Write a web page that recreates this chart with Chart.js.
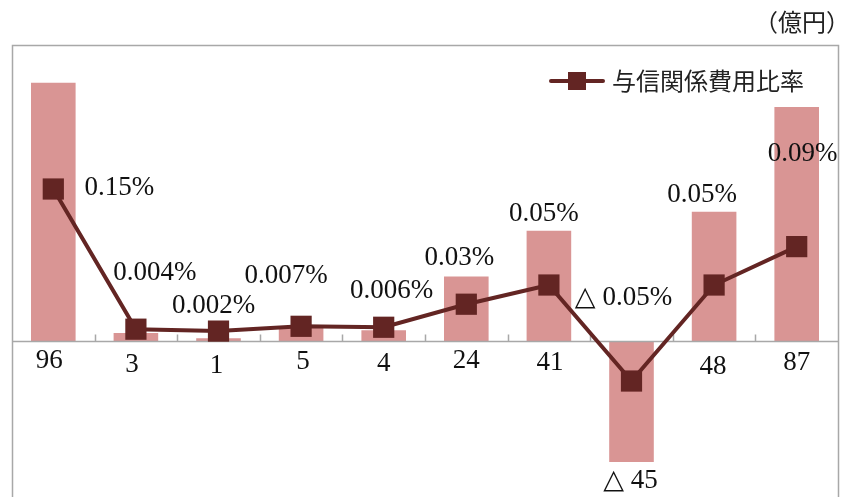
<!DOCTYPE html>
<html>
<head>
<meta charset="utf-8">
<script src="https://cdn.jsdelivr.net/npm/chart.js@4"></script>
<style>
  html, body { margin: 0; padding: 0; background: #fff; overflow: hidden; }
  canvas { display: block; }
</style>
</head>
<body>
<canvas id="creditChart" width="841" height="497"></canvas>
<script>
// 与信関係費用（億円）と与信関係費用比率（%）
var periods = ["P1", "P2", "P3", "P4", "P5", "P6", "P7", "P8", "P9", "P10"];
var creditCosts = [96, 3, 1, 5, 4, 24, 41, -45, 48, 87];
var costRatios = [0.15, 0.004, 0.002, 0.007, 0.006, 0.03, 0.05, -0.05, 0.05, 0.09];
var ratioLabels = ["0.15%", "0.004%", "0.002%", "0.007%", "0.006%", "0.03%", "0.05%", "△ 0.05%", "0.05%", "0.09%"];

// ラベルの位置調整（点からのずれ）
var ratioLabelShift = [[66, -1], [19, -56], [-5, -25], [-15, -50], [8, -36], [-7, -46], [-5, -71], [-8, -83], [-12, -90], [6, -93]];
var costLabelShift = [[-4, 20], [-4, 24], [-2, 25], [2, 21], [0, 23], [0, 20], [1, 22], [-1, 19], [-1, 26], [0, 22]];

var BAR_COLOR = "#d99594";
var LINE_COLOR = "#632523";
var FRAME_COLOR = "#a8a8a8";
var SERIF = "'Liberation Serif', 'DejaVu Serif', serif";
var SANS = "'Noto Sans CJK JP', 'Noto Sans', sans-serif";

function costText(v) {
    return v < 0 ? "△ " + Math.abs(v) : String(v);
}

// 枠・ゼロ線・ラベル・凡例を描く
var decorations = {
    id: "decorations",
    afterDatasetDraw: function (chart, args) {
        if (args.index !== 1) return;
        var ctx = chart.ctx;
        var area = chart.chartArea;
        var x = chart.scales.x;
        var zeroY = Math.round(chart.scales.y.getPixelForValue(0)) + 0.5;
        ctx.save();
        ctx.strokeStyle = FRAME_COLOR;
        ctx.lineWidth = 1.5;
        ctx.beginPath();
        ctx.moveTo(area.left, zeroY);
        ctx.lineTo(area.right, zeroY);
        for (var i = 1; i < periods.length; i++) {
            var bx = Math.round((x.getPixelForValue(i - 1) + x.getPixelForValue(i)) / 2) + 0.5;
            ctx.moveTo(bx, zeroY);
            ctx.lineTo(bx, zeroY - 7);
        }
        ctx.stroke();
        ctx.restore();
    },
    afterDraw: function (chart) {
        var ctx = chart.ctx;
        var area = chart.chartArea;
        var x = chart.scales.x;
        var y = chart.scales.y;
        var y1 = chart.scales.y1;
        ctx.save();

        // 外枠
        ctx.strokeStyle = FRAME_COLOR;
        ctx.lineWidth = 1.5;
        ctx.beginPath();
        ctx.moveTo(area.left + 0.5, area.bottom + 5);
        ctx.lineTo(area.left + 0.5, area.top + 0.5);
        ctx.lineTo(area.right + 0.5, area.top + 0.5);
        ctx.lineTo(area.right + 0.5, area.bottom + 5);
        ctx.stroke();

        ctx.fillStyle = "#111";
        ctx.font = "27px " + SERIF;
        ctx.textBaseline = "middle";
        ctx.textAlign = "center";

        // 費用の値（正はゼロ線の下、負は棒の下）
        for (var i = 0; i < creditCosts.length; i++) {
            var v = creditCosts[i];
            var cx = x.getPixelForValue(i) + costLabelShift[i][0];
            var cy = (v < 0 ? y.getPixelForValue(v) : y.getPixelForValue(0)) + costLabelShift[i][1];
            ctx.fillText(costText(v), cx, cy);
        }

        // 比率の値
        for (var j = 0; j < costRatios.length; j++) {
            var px = x.getPixelForValue(j) + ratioLabelShift[j][0];
            var py = y1.getPixelForValue(costRatios[j]) + ratioLabelShift[j][1];
            ctx.fillText(ratioLabels[j], px, py);
        }

        // 凡例
        var ly = 81;
        ctx.strokeStyle = LINE_COLOR;
        ctx.lineWidth = 4;
        ctx.lineCap = "round";
        ctx.beginPath();
        ctx.moveTo(551, ly);
        ctx.lineTo(603, ly);
        ctx.stroke();
        ctx.fillStyle = LINE_COLOR;
        ctx.fillRect(568, ly - 9, 18, 18);
        ctx.fillStyle = "#222";
        ctx.font = "24px " + SANS;
        ctx.textAlign = "left";
        ctx.fillText("与信関係費用比率", 612, ly);

        // 単位
        ctx.font = "24px " + SANS;
        ctx.textAlign = "right";
        ctx.fillText("（億円）", 850, 22);
        ctx.restore();
    }
};

var ctx = document.getElementById("creditChart").getContext("2d");
var creditChart = new Chart(ctx, {
    data: {
        labels: periods,
        datasets: [
            {
                type: "line",
                label: "与信関係費用比率",
                data: costRatios,
                yAxisID: "y1",
                order: 0,
                borderColor: LINE_COLOR,
                borderWidth: 4,
                tension: 0,
                pointStyle: "rect",
                pointRadius: 15,
                pointHoverRadius: 15,
                pointBorderWidth: 0,
                pointBackgroundColor: LINE_COLOR
            },
            {
                type: "bar",
                label: "与信関係費用",
                data: creditCosts,
                yAxisID: "y",
                order: 1,
                backgroundColor: BAR_COLOR,
                categoryPercentage: 1,
                barPercentage: 0.54
            }
        ]
    },
    options: {
        responsive: false,
        animation: false,
        layout: { autoPadding: false, padding: { left: 12, right: 3, top: 45, bottom: 0 } },
        plugins: {
            legend: { display: false },
            tooltip: { enabled: false }
        },
        scales: {
            x: { display: false, offset: true },
            y: { display: false, min: -58, max: 110 },
            y1: { display: false, min: -0.1708, max: 0.30 }
        }
    },
    plugins: [decorations]
});
</script>
</body>
</html>
